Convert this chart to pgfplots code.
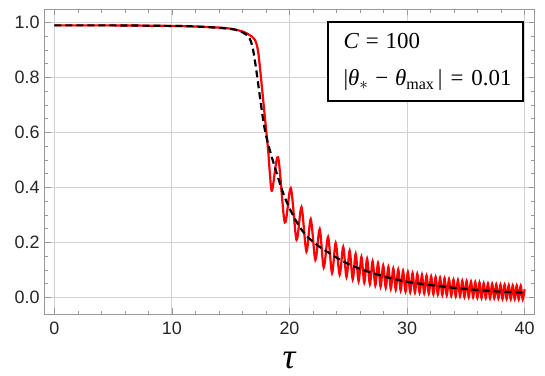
\documentclass[border=0pt]{standalone}
\usepackage{fontspec}
\setmainfont{Liberation Sans}
\newfontfamily\lserif{Liberation Serif}
\usepackage{pgfplots}
\pgfplotsset{compat=1.18}

\definecolor{framegray}{gray}{0.6}
\definecolor{gridgray}{gray}{0.82}

\begin{document}
\begin{tikzpicture}
  \path (-45bp,-62bp) rectangle (500bp,314bp);
  \begin{axis}[
      scale only axis, width=489bp, height=304bp,
      at={(0,0)}, anchor=south west,
      xmin=-0.8, xmax=40.8, ymin=-0.06, ymax=1.046,
      xtick={0,10,20,30,40}, minor x tick num=4,
      ytick={0,0.2,0.4,0.6,0.8,1.0}, minor y tick num=3,
      tick align=inside,
      major tick length=5.5bp, minor tick length=3bp,
      axis line style={framegray, line width=1bp},
      every tick/.style={framegray, line width=0.8bp},
      grid=major, grid style={gridgray, line width=1bp},
      tick label style={font=\fontsize{18}{20}\selectfont, black!85},
      /pgf/number format/assume math mode=true,
      xticklabel style={yshift=-4bp},
      yticklabel style={xshift=-2bp},
      yticklabel={\pgfmathprintnumber[fixed,fixed zerofill,precision=1]{\tick}},
    ]
    % oscillating solution
    \addplot[red, line width=2.2bp, smooth, tension=0.5] coordinates {
      (0,0.990) (5,0.990) (10,0.988) (12,0.986) (14,0.982) (15,0.978)
      (16.06,0.967) (16.6,0.955) (17.05,0.938) (17.33,0.895) (17.62,0.78)
      (17.9,0.658) (18.18,0.537) (18.33,0.452) (18.52,0.389)
      (19.03,0.510) (19.60,0.273) (20.11,0.398) (20.60,0.210) (21.02,0.329)
      (21.44,0.167) (21.81,0.285) (22.20,0.137) (22.57,0.249) (22.91,0.109)
      (23.28,0.220) (23.62,0.089) (23.93,0.198) (24.27,0.083)
      (24.57,0.184) (24.85,0.074) (25.12,0.170) (25.38,0.066) (25.63,0.159)
      (25.88,0.059) (26.12,0.148) (26.36,0.054) (26.60,0.141) (26.84,0.048)
      (27.07,0.132) (27.30,0.044) (27.53,0.125) (27.75,0.039) (27.97,0.117)
      (28.19,0.035) (28.41,0.111) (28.62,0.031) (28.83,0.106) (29.04,0.028)
      (29.25,0.102) (29.46,0.025) (29.66,0.097) (29.87,0.022) (30.07,0.093)
      (30.27,0.019) (30.47,0.089) (30.67,0.018) (30.87,0.086) (31.07,0.017)
      (31.27,0.083) (31.46,0.015) (31.66,0.080) (31.85,0.014) (32.05,0.077)
      (32.24,0.012) (32.43,0.075) (32.62,0.011) (32.81,0.072) (33.00,0.009)
      (33.19,0.070) (33.38,0.008) (33.57,0.067) (33.76,0.006) (33.95,0.065)
      (34.14,0.004) (34.33,0.064) (34.51,0.004) (34.70,0.061) (34.88,0.002)
      (35.07,0.060) (35.25,0.001) (35.44,0.058) (35.62,0.001) (35.80,0.056)
      (35.98,-0.001) (36.16,0.055) (36.34,-0.002) (36.52,0.052) (36.70,-0.002)
      (36.88,0.051) (37.06,-0.003) (37.24,0.050) (37.42,-0.003) (37.59,0.048)
      (37.77,-0.004) (37.95,0.047) (38.12,-0.005) (38.30,0.047) (38.47,-0.005)
      (38.65,0.045) (38.82,-0.006) (38.99,0.044) (39.16,-0.006) (39.33,0.044)
      (39.50,-0.007) (39.67,0.043) (39.84,-0.007) (40.00,0.030)
    };
    % averaged solution
    \addplot[black, line width=2.2bp, dash pattern=on 7bp off 4bp, smooth, tension=0.5] coordinates {
      (0,0.990) (5,0.990) (10,0.988) (12,0.986) (14,0.981) (15,0.977)
      (15.5,0.973) (16,0.965) (16.3,0.957) (16.6,0.943) (16.8,0.920)
      (16.95,0.890) (17.2,0.820) (17.5,0.725) (17.8,0.635) (18.1,0.572)
      (18.5,0.510) (19,0.440) (19.5,0.375) (20,0.325) (20.5,0.283)
      (21,0.248) (21.5,0.222) (22,0.203) (22.5,0.186) (23,0.172)
      (24,0.145) (25,0.122) (26,0.104) (27,0.090) (28,0.077) (29,0.066)
      (30,0.057) (31,0.051) (32,0.045) (33,0.040) (34,0.035) (35,0.031)
      (36,0.027) (37,0.024) (38,0.021) (39,0.019) (40,0.018)
    };
  \end{axis}
  % parameter box
  \draw[black, line width=1.8bp, fill=white] (283.3bp,213bp) rectangle (477.7bp,292bp);
  \node[anchor=base west, inner sep=0pt] at (298.3bp,265.7bp)
    {\lserif\fontsize{23}{24}\selectfont\textit{C}\hspace{0.3em}=\hspace{0.3em}100};
  \node[anchor=base west, inner sep=0pt] at (298.3bp,228bp)
    {\lserif\fontsize{23}{24}\selectfont |\textit{θ}\textsubscript{$\ast$}\hspace{0.3em}−\hspace{0.3em}\textit{θ}\textsubscript{max}\hspace{0.15em}|\hspace{0.35em}=\hspace{0.35em}0.01};
  % x label
  \node[anchor=base, inner sep=0pt] at (244.5bp,-54bp)
    {\lserif\fontsize{36}{36}\selectfont\textit{τ}};
\end{tikzpicture}
\end{document}
